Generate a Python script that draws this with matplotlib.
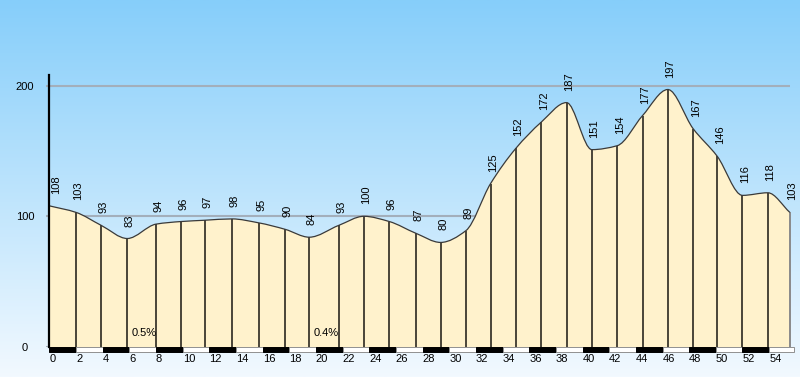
#!/usr/bin/env python3
"""Perfil de altitud - recreación con matplotlib."""

import numpy as np
import matplotlib
matplotlib.use("Agg")
import matplotlib.pyplot as plt
from matplotlib.path import Path
from matplotlib.patches import PathPatch, Rectangle
from matplotlib.colors import LinearSegmentedColormap

# Datos del perfil: distancia (km) y altitud (m)
DISTANCES = [0.0, 2.0, 3.9, 5.85, 8.0, 9.9, 11.7, 13.7, 15.7, 17.7,
             19.5, 21.7, 23.6, 25.5, 27.5, 29.35, 31.25, 33.1, 35.0, 36.9,
             38.8, 40.7, 42.6, 44.5, 46.4, 48.3, 50.1, 52.0, 53.9, 55.55]
ELEVATIONS = [108, 103, 93, 83, 94, 96, 97, 98, 95, 90,
              84, 93, 100, 96, 87, 80, 89, 125, 152, 172,
              187, 151, 154, 177, 197, 167, 146, 116, 118, 103]

# Pendientes medias por tramo
GRADE_LABELS = ["0.5%", "0.4%"]
GRADE_X = [6.2, 19.8]
GRADE_Y = [10.7, 10.7]

X_TICKS = list(range(0, 56, 2))
Y_TICKS = [0, 100, 200]
TOTAL_KM = 55.9

FILL_COLOR = "#FFF2CC"
POST_COLOR = "#4A4538"
GRID_COLOR = "#A3AFBB"


def monotone_tangents(x, y):
    """Tangentes tipo Fritsch-Carlson (sin sobreoscilación)."""
    h = np.diff(x)
    d = np.diff(y) / h
    m = np.zeros_like(y)
    m[0], m[-1] = d[0], d[-1]
    for i in range(1, len(y) - 1):
        if d[i - 1] * d[i] <= 0:
            m[i] = 0.0
        else:
            w1 = 2 * h[i] + h[i - 1]
            w2 = h[i] + 2 * h[i - 1]
            m[i] = (w1 + w2) / (w1 / d[i - 1] + w2 / d[i])
    return m


def smooth_path(xs, ys):
    """Curva Hermite monótona expresada como segmentos Bezier cúbicos."""
    x = np.asarray(xs, float)
    y = np.asarray(ys, float)
    m = monotone_tangents(x, y)
    verts = [(x[0], y[0])]
    codes = [Path.MOVETO]
    for i in range(len(x) - 1):
        h = x[i + 1] - x[i]
        verts += [(x[i] + h / 3, y[i] + m[i] * h / 3),
                  (x[i + 1] - h / 3, y[i + 1] - m[i + 1] * h / 3),
                  (x[i + 1], y[i + 1])]
        codes += [Path.CURVE4] * 3
    return verts, codes


def main():
    fig = plt.figure(figsize=(8, 3.77), dpi=100)

    # Fondo degradado
    bg = fig.add_axes([0, 0, 1, 1], zorder=-10)
    cmap = LinearSegmentedColormap.from_list("sky", ["#F2F9FF", "#86CEFA"])
    grad = np.linspace(0, 1, 256).reshape(-1, 1)
    bg.imshow(grad, aspect="auto", cmap=cmap, origin="lower", extent=[0, 1, 0, 1])
    bg.axis("off")

    ax = fig.add_axes([46 / 800, 30 / 377, 751 / 800, 272 / 377])
    ax.patch.set_alpha(0)
    ax.set_xlim(-0.25, 56.09)
    ax.set_ylim(0, 208.1)

    # Rejilla
    ax.hlines(Y_TICKS, -0.25, DISTANCES[-1], color=GRID_COLOR, lw=1.5, zorder=1)

    # Relleno y contorno suavizado
    verts, codes = smooth_path(DISTANCES, ELEVATIONS)
    fill_verts = verts + [(DISTANCES[-1], 0), (DISTANCES[0], 0), verts[0]]
    fill_codes = codes + [Path.LINETO, Path.LINETO, Path.CLOSEPOLY]
    ax.add_patch(PathPatch(Path(fill_verts, fill_codes), facecolor=FILL_COLOR,
                           edgecolor="none", zorder=2))
    ax.add_patch(PathPatch(Path(verts, codes), facecolor="none",
                           edgecolor="#3A3A3A", lw=0.9, zorder=4))

    # Postes verticales
    ax.vlines(DISTANCES[1:-1], 0, ELEVATIONS[1:-1], color=POST_COLOR, lw=1.4, zorder=3)
    ax.vlines(DISTANCES[-1], 0, ELEVATIONS[-1], color="#8A8A8A", lw=1.4, zorder=3)

    # Etiquetas de altitud
    for i, (d, e) in enumerate(zip(DISTANCES, ELEVATIONS)):
        dx = 7 if i == 0 else 2.5
        ax.annotate(str(e), (d, e), xytext=(dx, 12), textcoords="offset pixels",
                    rotation=90, ha="center", va="bottom", fontsize=8,
                    family="Liberation Sans", zorder=5)

    # Pendientes
    for lbl, gx, gy in zip(GRADE_LABELS, GRADE_X, GRADE_Y):
        ax.text(gx, gy, lbl, ha="left", va="center", fontsize=8,
                family="Liberation Sans", zorder=5)

    # Barra de kilómetros
    for k, x0 in enumerate(X_TICKS):
        w = min(2, TOTAL_KM - x0)
        black = k % 2 == 0
        ax.add_patch(Rectangle((x0, -3.7), w, 3.7, clip_on=False, zorder=6,
                               facecolor="black" if black else "white",
                               edgecolor="black" if black else "#909090", lw=0.7))

    # Ejes
    for side in ["top", "right", "bottom"]:
        ax.spines[side].set_visible(False)
    ax.spines["left"].set_position(("data", 0))
    ax.spines["left"].set_linewidth(1.6)
    ax.spines["left"].set_zorder(7)

    ax.set_xticks(X_TICKS)
    ax.set_xticklabels([str(t) for t in X_TICKS], ha="left",
                       fontsize=8, family="Liberation Sans")
    ax.tick_params(axis="x", length=0, pad=5)

    ax.set_yticks(Y_TICKS)
    ax.set_yticklabels([str(t) for t in Y_TICKS], fontsize=8, family="Liberation Sans")
    ax.tick_params(axis="y", length=0, pad=17.5)
    for lbl in ax.get_yticklabels():
        lbl.set_horizontalalignment("center")

    fig.savefig("out.png", dpi=100)
    plt.close(fig)


if __name__ == "__main__":
    main()
